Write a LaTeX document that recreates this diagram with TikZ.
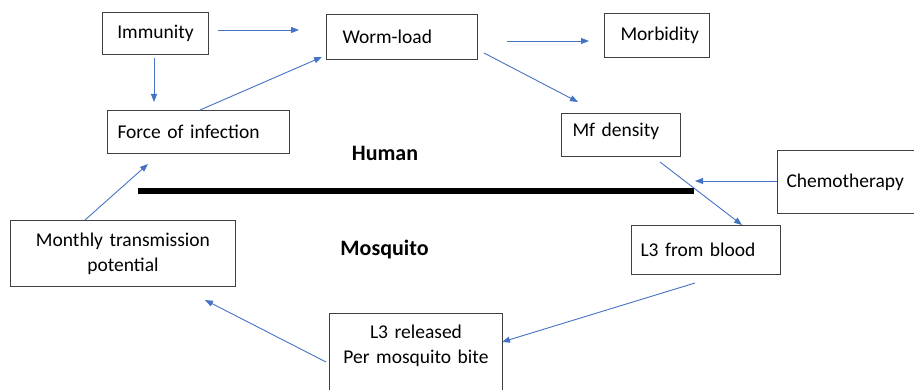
\documentclass[tikz,border=0pt]{standalone}
\usepackage{fontspec}
\setmainfont{Carlito}
\usetikzlibrary{arrows.meta}
\definecolor{arrowblue}{HTML}{4472C4}
\definecolor{boxgray}{HTML}{404040}
\tikzset{
  box/.style={draw=boxgray, line width=1pt, fill=white, anchor=north west,
    font=\fontsize{19.5}{25}\selectfont, inner ysep=0pt},
  lbox/.style={box, align=left},
  cbox/.style={box, align=center},
  conn/.style={draw=arrowblue, line width=0.9pt, -{Triangle[length=8pt,width=6pt]}},
  region/.style={font=\bfseries\fontsize{22}{26}\selectfont, inner sep=0pt},
  divider/.style={line width=6.5pt, black},
}
\begin{document}
\begin{tikzpicture}[x=1pt,y=-1pt]
\useasboundingbox (0,0) rectangle (914,390);
\clip (0,0) rectangle (914,390);
% boxes
\node[cbox, minimum width=106, minimum height=42, inner xsep=0pt, text width=106] (imm) at (102,12) {Immunity};
\node[lbox, minimum height=45, inner xsep=16pt, text width=119] (worm) at (326,14) {Worm-load};
\node[lbox, minimum height=44, inner xsep=16pt, text width=73] (morb) at (604,13) {Morbidity};
\node[lbox, minimum height=43, inner xsep=10pt, text width=162] (foi) at (107,110) {Force of infection};
\node[lbox, minimum height=43, inner xsep=11pt, text width=97] (mf) at (561,113) {Mf density\\[-15pt]\mbox{}};
\node[lbox, minimum height=63, inner xsep=9pt, text width=130] (chemo) at (777,150) {Chemotherapy};
\node[cbox, minimum height=66, inner xsep=0pt, text width=225] (mtp) at (10,220) {Monthly transmission\\potential};
\node[lbox, minimum height=49, inner xsep=9pt, text width=131] (l3b) at (631,225) {L3 from blood};
\node[cbox, minimum height=90, inner xsep=0pt, text width=173] (l3r) at (329,313) {L3 released\\Per mosquito bite\\[3pt]\mbox{}};
% region labels and divider
\node[region] (human) at (385,153) {Human};
\node[region] (mosq) at (384.5,250) {Mosquito};
\coordinate (divL) at (138,191);
\coordinate (divR) at (694,191);
\draw[divider] (divL) -- (divR);
% free arrow ends
\coordinate (a1s) at (218,30);
\coordinate (a1e) at (299,30);
\coordinate (a4s) at (507,41);
\coordinate (a4e) at (589,41);
\coordinate (a5s) at (484,53);
\coordinate (a5e) at (578,102);
\coordinate (a6s) at (660,162);
\coordinate (a6e) at (742,225);
\coordinate (a7e) at (695,181);
\coordinate (a8s) at (695,283);
\coordinate (a8e) at (502,342);
\coordinate (a9s) at (326,362);
\coordinate (a9e) at (205,300);
\coordinate (a10e) at (148,164);
% connectors
\draw[conn] (a1s) -- (a1e);
\draw[conn] (imm.south -| 154,0) ++(0,3) -- (154,102);
\draw[conn] (foi.north -| 200,0) -- (322,57);
\draw[conn] (a4s) -- (a4e);
\draw[conn] (a5s) -- (a5e);
\draw[conn] (a6s) -- (a6e);
\draw[conn] (chemo.west |- a7e) -- (a7e);
\draw[conn] (a8s) -- (a8e);
\draw[conn] (a9s) -- (a9e);
\draw[conn] (mtp.north -| 85,0) -- (a10e);
\end{tikzpicture}
\end{document}
